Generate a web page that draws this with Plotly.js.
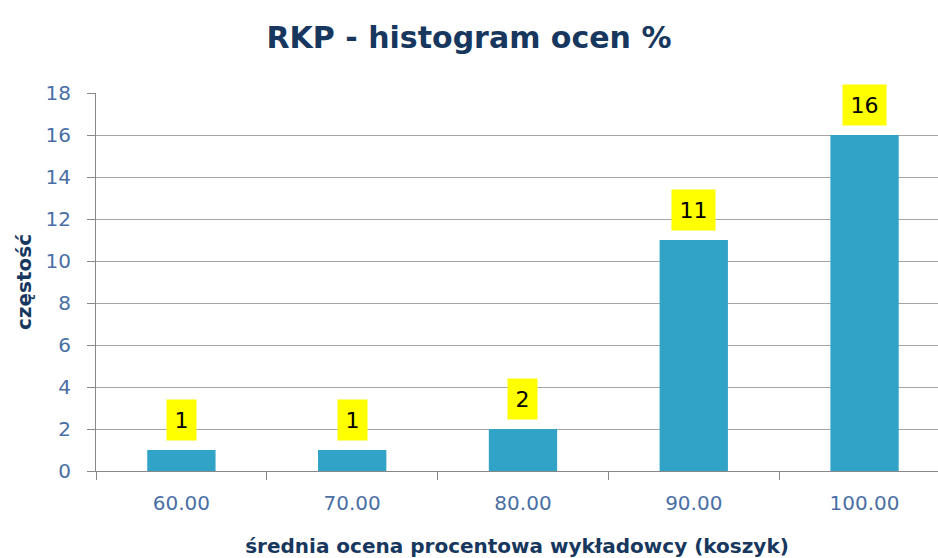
<!DOCTYPE html>
<html><head><meta charset="utf-8">
<script src="https://cdn.plot.ly/plotly-3.0.1.min.js"></script>
<style>html,body{margin:0;padding:0;background:#fff}#chart{width:938px;height:558px}</style>
</head><body><div id="chart"></div>
<script>
const categories = ["60.00", "70.00", "80.00", "90.00", "100.00"];
const frequencies = [1, 1, 2, 11, 16];
const yTicks = [0, 2, 4, 6, 8, 10, 12, 14, 16, 18];

const font = "'DejaVu Sans', sans-serif";

const trace = {
  type: "bar",
  x: categories,
  y: frequencies,
  width: 0.4,
  marker: {color: "#31a3c6", line: {width: 0}},
  hoverinfo: "none"
};

const annotations = categories.map((c, i) => ({
  x: i, y: frequencies[i], xref: "x", yref: "y",
  text: String(frequencies[i]),
  showarrow: false, yanchor: "bottom", yshift: 9,
  bgcolor: "#ffff00", borderpad: 0,
  width: String(frequencies[i]).length * 14 + 15,
  height: 40,
  font: {family: font, size: 22, color: "#000"}
}));

const layout = {
  width: 938, height: 558,
  margin: {l: 96, r: 0, t: 93, b: 87},
  paper_bgcolor: "#fff", plot_bgcolor: "#fff",
  showlegend: false,
  title: {text: "<b>RKP - histogram ocen %</b>", x: 0.5, xanchor: "center", y: 0.933, yanchor: "middle",
          font: {family: font, size: 30, color: "#17375e"}},
  xaxis: {
    type: "category", range: [-0.5, 4.43],
    tickson: "boundaries", ticks: "outside", ticklen: 8, tickcolor: "#888",
    showline: true, linecolor: "#888", linewidth: 1,
    showgrid: false, zeroline: false,
    tickfont: {family: font, size: 20, color: "#4a6fa5"},
    ticklabelstandoff: 14,
    title: {text: "<b>średnia ocena procentowa wykładowcy (koszyk)</b>", standoff: 24,
            font: {family: font, size: 20, color: "#17375e"}}
  },
  yaxis: {
    range: [0, 18], tickvals: yTicks, ticktext: yTicks.map(String),
    ticks: "outside", ticklen: 8, tickcolor: "#888",
    showline: true, linecolor: "#888", linewidth: 1,
    showgrid: true, gridcolor: "#a6a6a6", gridwidth: 1,
    zeroline: false,
    tickfont: {family: font, size: 20, color: "#4a6fa5"},
    ticklabelstandoff: 12,
    title: {text: "<b>częstość</b>", standoff: 8,
            font: {family: font, size: 20, color: "#17375e"}}
  },
  annotations: annotations,
  bargap: 0.6
};

Plotly.newPlot("chart", [trace], layout, {staticPlot: true, displayModeBar: false});
</script></body></html>
